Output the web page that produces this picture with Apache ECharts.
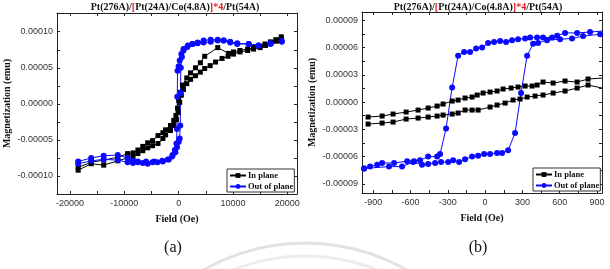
<!DOCTYPE html>
<html>
<head>
<meta charset="utf-8">
<script src="https://cdn.jsdelivr.net/npm/echarts@6/dist/echarts.min.js"></script>
<style>
html, body { margin: 0; padding: 0; background: #fff; }
#chart { width: 610px; height: 269px; }
</style>
</head>
<body>
<div id="chart"></div>
<script>
// magnetization values in units of 1e-5 emu, field in Oe

// (a) full field sweep
var inPlaneA = [
    [18900, 9.3], [17900, 8.9], [16900, 8.6], [15900, 8.3], [15000, 8.0], [13800, 7.8], [12700, 7.6],
    [11300, 7.4], [10100, 7.2], [9200, 7.0], [7200, 7.8], [4800, 6.6], [4000, 5.7], [3100, 5.0],
    [2200, 4.3], [1500, 3.6], [700, 2.6], [300, 1.6], [0, 0.5], [-200, -0.6], [-500, -1.6],
    [-900, -2.3], [-1500, -3.0], [-2400, -3.6], [-2900, -4.0], [-3800, -4.4], [-4800, -5.1],
    [-5700, -5.4], [-6600, -5.9], [-7500, -6.4], [-8400, -6.8], [-9400, -6.9], [-11200, -7.4],
    [-13800, -7.8], [-16100, -8.1], [-18500, -8.8],
    [-18500, -9.2], [-16100, -8.3], [-13800, -8.5], [-11200, -7.9], [-9400, -7.5], [-8400, -7.3],
    [-7500, -6.9], [-6600, -6.5], [-5700, -6.1], [-4800, -5.8], [-3800, -5.5], [-2900, -4.8],
    [-2400, -4.3], [-1500, -3.7], [-900, -3.0], [-400, -2.2], [-100, -1.2], [200, 0.2], [500, 1.2],
    [900, 2.0], [1500, 2.8], [2200, 3.4], [3100, 3.9], [4000, 4.4], [4800, 4.9], [5800, 5.3],
    [6800, 5.8], [8000, 6.3], [9100, 6.6], [10100, 6.9], [11300, 7.2], [12700, 7.4], [13800, 7.6],
    [15000, 7.8], [16000, 8.1], [17000, 8.4], [18000, 8.7], [18900, 9.1]
];
var outPlaneA = [
    [19000, 8.6], [16900, 8.4], [14700, 8.1], [12900, 8.3], [10800, 8.4], [9500, 8.6], [8300, 8.8],
    [7200, 8.8], [5900, 8.6], [4600, 8.5], [3500, 8.4], [2600, 8.3], [1700, 8.1], [900, 7.6],
    [500, 6.9], [200, 6.0], [0, 5.2], [-200, 4.6], [-250, 1.0], [-300, -3.5], [-400, -5.5],
    [-700, -6.4], [-1100, -7.1], [-1800, -7.7], [-2900, -8.0], [-3900, -8.1], [-4800, -8.1],
    [-5700, -8.3], [-6600, -8.2], [-7500, -8.1], [-8400, -8.2], [-9400, -8.1], [-11200, -7.8],
    [-13800, -7.7], [-16100, -7.9], [-18500, -8.3],
    [-18500, -8.0], [-16100, -7.5], [-13800, -7.2], [-11200, -7.1], [-9400, -7.5], [-8400, -7.9],
    [-7500, -8.0], [-6000, -8.0], [-4500, -8.0], [-3000, -7.9], [-2000, -7.7], [-1200, -7.3],
    [-600, -6.7], [-300, -6.0], [0, -5.3], [200, -4.8], [300, -3.0], [350, 1.5], [400, 5.0],
    [600, 6.5], [900, 7.4], [1600, 7.9], [2500, 8.3], [3500, 8.5], [4600, 8.8], [5900, 8.9],
    [7200, 8.9], [8300, 8.8], [9500, 8.5], [10800, 8.3], [12900, 8.3], [14700, 8.1], [16900, 8.3],
    [19000, 8.7]
];

// (b) low field sweep
var inPlaneUpperB = [
    [-941, -1.65], [-828, -1.54], [-740, -1.32], [-635, -1.10], [-539, -0.88], [-458, -0.66],
    [-386, -0.44], [-338, -0.22], [-265, 0.11], [-217, 0.22], [-161, 0.44], [-105, 0.55],
    [-64, 0.77], [-16, 0.99], [40, 1.10], [96, 1.21], [145, 1.43], [209, 1.54], [265, 1.65],
    [322, 1.76], [378, 1.76], [418, 1.87], [466, 2.20], [547, 2.09], [643, 2.31], [740, 2.20],
    [828, 2.53], [941, 2.64]
];
var inPlaneLowerB = [
    [-941, -2.42], [-828, -2.31], [-740, -2.20], [-635, -1.87], [-539, -1.76], [-458, -1.65],
    [-386, -1.54], [-338, -1.43], [-265, -1.32], [-217, -1.21], [-161, -0.88], [-105, -0.88],
    [-56, -0.88], [40, -0.55], [96, -0.33], [161, -0.11], [225, 0.22], [281, 0.33], [338, 0.55],
    [402, 0.66], [466, 0.77], [547, 0.99], [643, 1.21], [740, 1.54], [828, 1.87], [941, 1.54]
];
var outPlaneDownB = [
    [941, 7.8], [844, 7.7], [740, 7.6], [643, 7.6], [579, 7.3], [539, 7.1], [466, 7.1], [418, 7.1],
    [362, 7.1], [322, 7.0], [265, 6.9], [217, 6.8], [169, 6.6], [121, 6.7], [72, 6.6], [24, 6.5],
    [-24, 6.0], [-72, 5.9], [-121, 5.5], [-169, 5.5], [-217, 5.1], [-265, 1.6], [-314, -2.9],
    [-362, -5.7], [-386, -6.0], [-458, -6.0], [-523, -6.4], [-571, -6.5], [-627, -6.5],
    [-732, -6.7], [-828, -6.7], [-868, -6.9], [-925, -7.1], [-973, -7.3]
];
var outPlaneUpB = [
    [-973, -7.3], [-773, -7.1], [-668, -7.1], [-579, -6.6], [-507, -6.9], [-458, -6.8],
    [-402, -6.7], [-354, -6.6], [-297, -6.6], [-257, -6.4], [-209, -6.6], [-161, -6.3],
    [-105, -6.0], [-56, -5.9], [-8, -5.7], [40, -5.7], [96, -5.6], [137, -5.6], [185, -5.3],
    [241, -3.4], [289, 1.0], [338, 5.1], [386, 6.4], [426, 6.5], [498, 6.8], [603, 6.9],
    [699, 7.0], [788, 7.25], [925, 7.45]
];

// tick positions and labels
var xLabelsA = [-20000, -10000, 0, 10000, 20000];
var xTicksA = [-20000, -15000, -10000, -5000, 0, 5000, 10000, 15000, 20000];
var yLabelsA = [-10, -5, 0, 5, 10];
var yTicksA = [-10, -7.5, -5, -2.5, 0, 2.5, 5, 7.5, 10];
var xLabelsB = [-900, -600, -300, 0, 300, 600, 900];
var xTicksB = [-900, -750, -600, -450, -300, -150, 0, 150, 300, 450, 600, 750, 900];
var yLabelsB = [-9, -6, -3, 0, 3, 6, 9];
var yTicksB = [-9, -7.5, -6, -4.5, -3, -1.5, 0, 1.5, 3, 4.5, 6, 7.5, 9];

var serif = '"Liberation Serif", "Times New Roman", serif';
var sans = '"Liberation Sans", Arial, sans-serif';

function xAxes(grid, min, max, ticks, labels) {
    var line = { onZero: false, lineStyle: { color: '#222', width: 1 } };
    return [
        {
            gridIndex: grid, type: 'value', position: 'bottom', min: min, max: max,
            axisLine: line, splitLine: { show: false },
            axisTick: { inside: true, length: 3, customValues: ticks, lineStyle: { color: '#222' } },
            axisLabel: {
                customValues: labels, fontSize: 9, fontFamily: sans, color: '#333', margin: 5,
                formatter: function (v) { return String(v); }
            },
            name: 'Field (Oe)', nameLocation: 'middle', nameGap: 20,
            nameTextStyle: { fontFamily: serif, fontWeight: 'bold', fontSize: 10, color: '#111' }
        },
        {
            gridIndex: grid, type: 'value', position: 'top', min: min, max: max,
            axisLine: line, splitLine: { show: false },
            axisTick: { inside: true, length: 3, customValues: ticks, lineStyle: { color: '#222' } },
            axisLabel: { show: false }
        }
    ];
}

function yAxes(grid, min, max, ticks, labels) {
    var line = { onZero: false, lineStyle: { color: '#222', width: 1 } };
    return [
        {
            gridIndex: grid, type: 'value', position: 'left', min: min, max: max,
            axisLine: line, splitLine: { show: false },
            axisTick: { inside: true, length: 3, customValues: ticks, lineStyle: { color: '#222' } },
            axisLabel: {
                customValues: labels, fontSize: 9, fontFamily: sans, color: '#333', margin: 4,
                formatter: function (v) { return (v / 1e5).toFixed(5); }
            },
            name: 'Magnetization (emu)', nameLocation: 'middle', nameGap: 45,
            nameTextStyle: { fontFamily: serif, fontWeight: 'bold', fontSize: 10, color: '#111' }
        },
        {
            gridIndex: grid, type: 'value', position: 'right', min: min, max: max,
            axisLine: line, splitLine: { show: false },
            axisTick: { inside: true, length: 3, customValues: ticks, lineStyle: { color: '#222' } },
            axisLabel: { show: false }
        }
    ];
}

function lineSeries(name, data, xi, yi, symbol, color, size) {
    return {
        name: name, type: 'line', data: data, xAxisIndex: xi, yAxisIndex: yi,
        symbol: symbol, symbolSize: size, showSymbol: true,
        itemStyle: { color: color },
        lineStyle: { color: color, width: 1 },
        animation: false
    };
}

function legendAt(left, top) {
    return {
        data: ['In plane', 'Out of plane'], orient: 'vertical', left: left, top: top,
        itemWidth: 16, itemHeight: 6, itemGap: 2, padding: [2, 1, 1, 2],
        borderColor: '#333', borderWidth: 1, backgroundColor: '#fff',
        selectedMode: false,
        textStyle: { fontFamily: serif, fontWeight: 'bold', fontSize: 8.5, color: '#111', padding: [0, 0, 0, -3] }
    };
}

var titleRich = {
    k: { fontFamily: serif, fontWeight: 'bold', fontSize: 10, fill: '#111' },
    r: { fontFamily: serif, fontWeight: 'bold', fontSize: 10, fill: '#e02020' }
};
var titleStr = '{k|Pt(276A)/}{r|[}{k|Pt(24A)/Co(4.8A)}{r|]*4}{k|/Pt(54A)}';

var chart = echarts.init(document.getElementById('chart'));
chart.setOption({
    backgroundColor: '#fff',
    animation: false,
    grid: [
        { left: 57, top: 13, width: 240, height: 181 },
        { left: 362, top: 12, width: 240, height: 181 }
    ],
    xAxis: xAxes(0, -22400, 21800, xTicksA, xLabelsA).concat(xAxes(1, -990, 940, xTicksB, xLabelsB)),
    yAxis: yAxes(0, -12.5, 12.6, yTicksA, yLabelsA).concat(yAxes(1, -10, 9.9, yTicksB, yLabelsB)),
    legend: [legendAt(227, 169), legendAt(533, 168)],
    series: [
        lineSeries('In plane', inPlaneA, 0, 0, 'rect', '#000', 5),
        lineSeries('Out of plane', outPlaneA, 0, 0, 'circle', '#0a0aff', 6),
        lineSeries('In plane', inPlaneUpperB, 2, 2, 'rect', '#000', 5),
        lineSeries('In plane', inPlaneLowerB, 2, 2, 'rect', '#000', 5),
        lineSeries('Out of plane', outPlaneDownB, 2, 2, 'circle', '#0a0aff', 6),
        lineSeries('Out of plane', outPlaneUpB, 2, 2, 'circle', '#0a0aff', 6)
    ],
    graphic: [
        {
            type: 'arc', silent: true, z: -1,
            shape: { cx: 305, cy: 448, r: 205, startAngle: -2.2, endAngle: -0.94, clockwise: true },
            style: { stroke: '#e2e2e2', lineWidth: 3, fill: null }
        },
        {
            type: 'arc', silent: true, z: -1,
            shape: { cx: 305, cy: 448, r: 192, startAngle: -2.2, endAngle: -0.94, clockwise: true },
            style: { stroke: '#ececec', lineWidth: 3, fill: null }
        },
        {
            type: 'group', children: [
                { type: 'text', x: 175, y: 2, style: { text: titleStr, align: 'center', rich: titleRich } },
                { type: 'text', x: 478, y: 2, style: { text: titleStr, align: 'center', rich: titleRich } },
                {
                    type: 'text', x: 173, y: 240,
                    style: { text: '(a)', align: 'center', fontFamily: serif, fontSize: 16, fill: '#111' }
                },
                {
                    type: 'text', x: 478, y: 240,
                    style: { text: '(b)', align: 'center', fontFamily: serif, fontSize: 16, fill: '#111' }
                }
            ]
        }
    ]
});
</script>
</body>
</html>
